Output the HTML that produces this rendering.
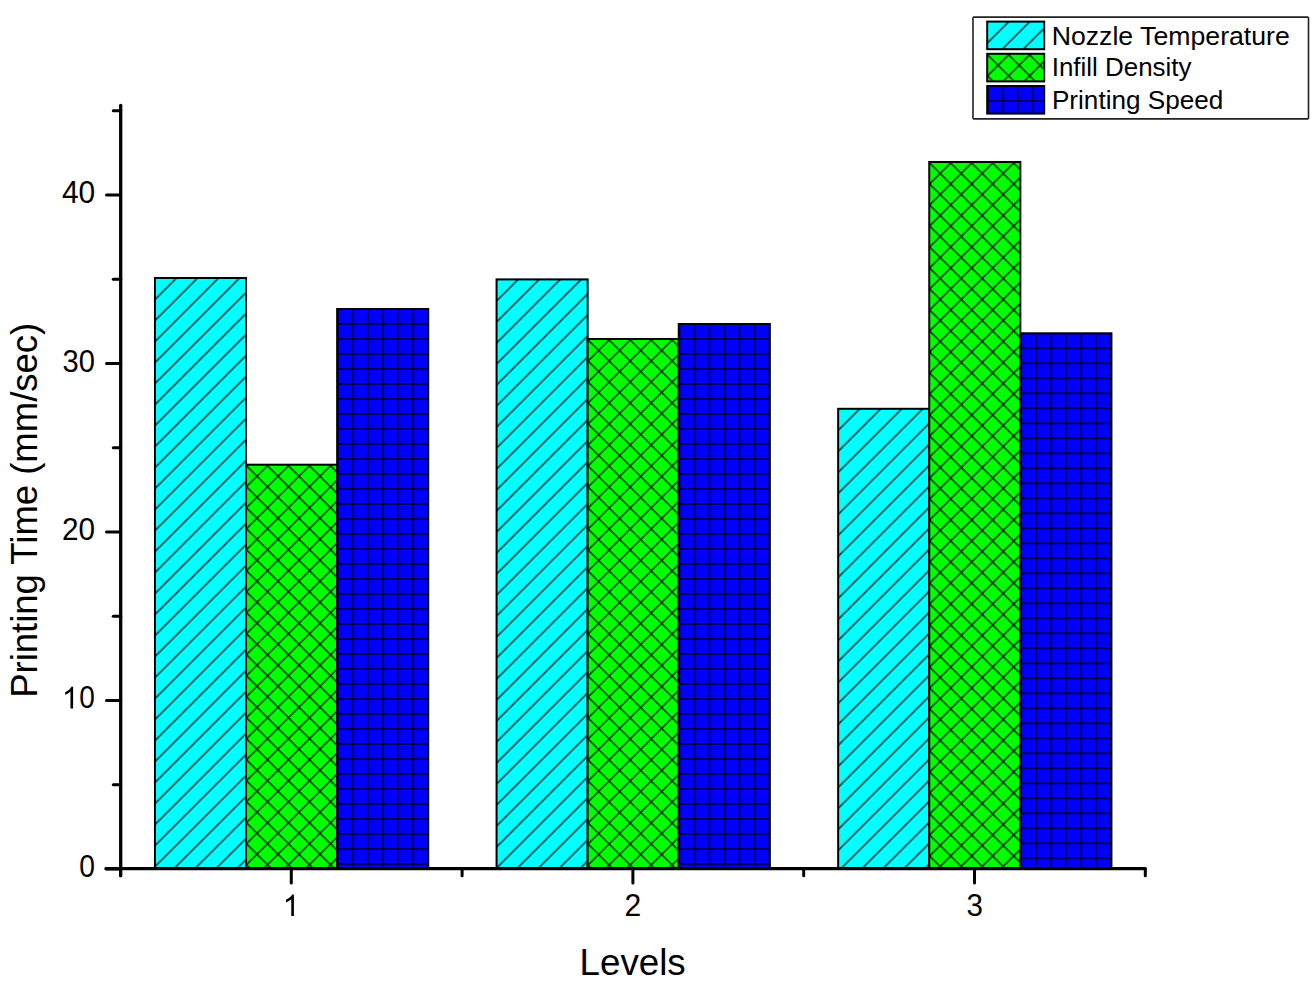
<!DOCTYPE html>
<html><head><meta charset="utf-8"><style>
html,body{margin:0;padding:0;background:#fff;}
svg{display:block;position:absolute;left:0;top:0;}
text{font-family:"Liberation Sans",sans-serif;fill:#000;}
</style></head><body>
<svg width="1316" height="990" viewBox="0 0 1316 990">
<defs>
<pattern id="pc" patternUnits="userSpaceOnUse" width="14.849242404917497" height="14.849242404917497" patternTransform="translate(0.3 0.3) rotate(45)"><rect x="-1" y="-1" width="16.849242404917497" height="16.849242404917497" fill="#00ffff"/><rect x="-0.600" y="-1" width="1.2" height="16.849" fill="#000"/><rect x="14.249" y="-1" width="1.2" height="16.849" fill="#000"/></pattern>
<pattern id="pg" patternUnits="userSpaceOnUse" width="14.849242404917497" height="14.849242404917497" patternTransform="translate(0.4 1.0) rotate(45)"><rect x="-1" y="-1" width="16.849242404917497" height="16.849242404917497" fill="#00ff00"/><rect x="-0.600" y="-1" width="1.2" height="16.849" fill="#000"/><rect x="14.249" y="-1" width="1.2" height="16.849" fill="#000"/><rect y="-0.600" x="-1" height="1.2" width="16.849" fill="#000"/><rect y="14.249" x="-1" height="1.2" width="16.849" fill="#000"/></pattern>
<pattern id="pb" patternUnits="userSpaceOnUse" width="15.0" height="15.0" patternTransform="translate(0.7 0)"><rect x="-1" y="-1" width="17.0" height="17.0" fill="#0000ff"/><rect x="-0.625" y="-1" width="1.25" height="17.000" fill="#000"/><rect x="14.375" y="-1" width="1.25" height="17.000" fill="#000"/><rect y="-0.625" x="-1" height="1.25" width="17.000" fill="#000"/><rect y="14.375" x="-1" height="1.25" width="17.000" fill="#000"/></pattern>
</defs>
<rect width="1316" height="990" fill="#fff"/>
<g transform="translate(154.96,278.00)"><rect x="0" y="0" width="91.09" height="590.70" fill="url(#pc)" stroke="#000" stroke-width="2.0"/></g>
<g transform="translate(246.05,464.70)"><rect x="0" y="0" width="91.09" height="404.00" fill="url(#pg)" stroke="#000" stroke-width="2.0"/></g>
<g transform="translate(337.15,309.00)"><rect x="0" y="0" width="91.09" height="559.70" fill="url(#pb)" stroke="#000" stroke-width="2.0"/></g>
<g transform="translate(496.56,279.40)"><rect x="0" y="0" width="91.09" height="589.30" fill="url(#pc)" stroke="#000" stroke-width="2.0"/></g>
<g transform="translate(587.65,339.00)"><rect x="0" y="0" width="91.09" height="529.70" fill="url(#pg)" stroke="#000" stroke-width="2.0"/></g>
<g transform="translate(678.75,324.00)"><rect x="0" y="0" width="91.09" height="544.70" fill="url(#pb)" stroke="#000" stroke-width="2.0"/></g>
<g transform="translate(838.16,408.80)"><rect x="0" y="0" width="91.09" height="459.90" fill="url(#pc)" stroke="#000" stroke-width="2.0"/></g>
<g transform="translate(929.25,162.00)"><rect x="0" y="0" width="91.09" height="706.70" fill="url(#pg)" stroke="#000" stroke-width="2.0"/></g>
<g transform="translate(1020.35,333.30)"><rect x="0" y="0" width="91.09" height="535.40" fill="url(#pb)" stroke="#000" stroke-width="2.0"/></g>
<g stroke="#000" fill="none" stroke-linecap="round">
<line x1="120.7" y1="105.35000000000001" x2="120.7" y2="875.65" stroke-width="3.3"/>
<line x1="105.95" y1="868.7" x2="1145.1499999999999" y2="868.7" stroke-width="3.3"/>
<line x1="106.5" y1="868.90" x2="120.7" y2="868.90" stroke-width="3.0"/>
<line x1="113.3" y1="784.65" x2="120.7" y2="784.65" stroke-width="3.0"/>
<line x1="106.5" y1="700.40" x2="120.7" y2="700.40" stroke-width="3.0"/>
<line x1="113.3" y1="616.15" x2="120.7" y2="616.15" stroke-width="3.0"/>
<line x1="106.5" y1="531.90" x2="120.7" y2="531.90" stroke-width="3.0"/>
<line x1="113.3" y1="447.65" x2="120.7" y2="447.65" stroke-width="3.0"/>
<line x1="106.5" y1="363.40" x2="120.7" y2="363.40" stroke-width="3.0"/>
<line x1="113.3" y1="279.15" x2="120.7" y2="279.15" stroke-width="3.0"/>
<line x1="106.5" y1="194.90" x2="120.7" y2="194.90" stroke-width="3.0"/>
<line x1="113.3" y1="110.65" x2="120.7" y2="110.65" stroke-width="3.0"/>
<line x1="120.50" y1="868.7" x2="120.50" y2="875.8" stroke-width="3.0"/>
<line x1="462.10" y1="868.7" x2="462.10" y2="875.8" stroke-width="3.0"/>
<line x1="803.70" y1="868.7" x2="803.70" y2="875.8" stroke-width="3.0"/>
<line x1="1145.30" y1="868.7" x2="1145.30" y2="875.8" stroke-width="3.0"/>
<line x1="291.30" y1="868.7" x2="291.30" y2="883.1" stroke-width="3.0"/>
<line x1="632.90" y1="868.7" x2="632.90" y2="883.1" stroke-width="3.0"/>
<line x1="974.50" y1="868.7" x2="974.50" y2="883.1" stroke-width="3.0"/>
</g>
<text transform="translate(0 203.10) scale(1 1.02)" x="61.91" y="0" font-size="30" textLength="33.26" lengthAdjust="spacingAndGlyphs">40</text>
<text transform="translate(0 372.00) scale(1 1.02)" x="62.59" y="0" font-size="30" textLength="32.35" lengthAdjust="spacingAndGlyphs">30</text>
<text transform="translate(0 540.20) scale(1 1.02)" x="61.91" y="0" font-size="30" textLength="33.05" lengthAdjust="spacingAndGlyphs">20</text>
<text transform="translate(0 876.60) scale(1 1.02)" x="79.30" y="0" font-size="30" textLength="15.71" lengthAdjust="spacingAndGlyphs">0</text>
<path transform="translate(61.93 708.40) scale(0.01465 -0.01465)" d="M763 0H583V1147Q518 1085 412.5 1023Q307 961 223 930V1104Q374 1175 487 1276Q600 1377 647 1472H763Z"/>
<text transform="translate(0 708.40) scale(1 1.02)" x="79.31" y="0" font-size="30" textLength="15.59" lengthAdjust="spacingAndGlyphs">0</text>
<path transform="translate(282.73 916.00) scale(0.01465 -0.01465)" d="M763 0H583V1147Q518 1085 412.5 1023Q307 961 223 930V1104Q374 1175 487 1276Q600 1377 647 1472H763Z"/>
<text transform="translate(0 915.80) scale(1 1.02)" x="624.40" y="0" font-size="30" textLength="16.71" lengthAdjust="spacingAndGlyphs">2</text>
<text transform="translate(0 916.00) scale(1 1.02)" x="966.58" y="0" font-size="30" textLength="16.43" lengthAdjust="spacingAndGlyphs">3</text>
<text x="579.59" y="975.00" font-size="36" textLength="106.12" lengthAdjust="spacingAndGlyphs">Levels</text>
<text transform="translate(37.0 697.79) rotate(-90)" x="0" y="0" font-size="36.0" textLength="374.97" lengthAdjust="spacingAndGlyphs">Printing Time (mm/sec)</text>
<rect x="973" y="17.1" width="335.5" height="101.8" rx="0.8" fill="#fff" stroke="#222" stroke-width="1.6"/>
<g transform="translate(987.2,21.6)"><rect x="0" y="0" width="57" height="27.6" fill="url(#pc)" stroke="#000" stroke-width="2"/></g>
<g transform="translate(987.2,53.8)"><rect x="0" y="0" width="57" height="27.6" fill="url(#pg)" stroke="#000" stroke-width="2"/></g>
<g transform="translate(987.2,86.0)"><rect x="0" y="0" width="57" height="27.6" fill="url(#pb)" stroke="#000" stroke-width="2"/></g>
<text x="1051.71" y="44.60" font-size="26.2" textLength="238.07" lengthAdjust="spacingAndGlyphs">Nozzle Temperature</text>
<text x="1051.71" y="76.30" font-size="26.2" textLength="139.83" lengthAdjust="spacingAndGlyphs">Infill Density</text>
<text x="1051.96" y="108.60" font-size="26.2" textLength="171.32" lengthAdjust="spacingAndGlyphs">Printing Speed</text>
</svg>
</body></html>
